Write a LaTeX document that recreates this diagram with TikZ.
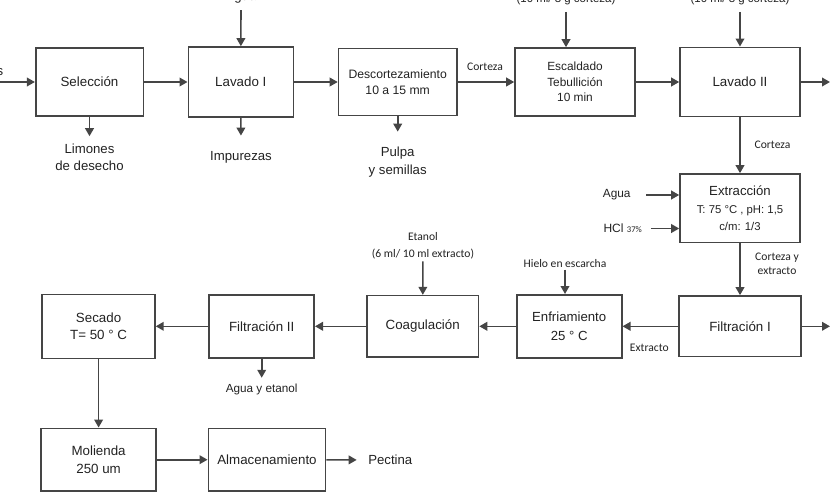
\documentclass[tikz,border=0pt]{standalone}
\usepackage{fontspec}
\setmainfont{Liberation Sans}
\newfontfamily\calfont{Carlito}
\usetikzlibrary{arrows.meta}
\definecolor{linec}{HTML}{454545}
\definecolor{textc}{HTML}{222222}
\newcommand\cond{\fontsize{8.5}{11.3}\selectfont}
\begin{document}
\begin{tikzpicture}[x=0.75pt, y=-0.75pt,
  box/.style={draw=linec, line width=1.2pt, text=textc, align=center, inner sep=1pt, font=\fontsize{10}{13.3}\selectfont},
  lbl/.style={text=textc, align=center, inner sep=2.5pt, font=\fontsize{9.9}{12.9}\selectfont},
  note/.style={text=textc, align=center, inner sep=1.5pt, font=\calfont\fontsize{8.7}{12.5}\selectfont},
  flow/.style={draw=linec, line width=1.2pt, -{Triangle[length=6pt,width=6.5pt]}}]
\useasboundingbox (0,0) rectangle (839,492);
\clip (0,0) rectangle (839,492);
\node[box, minimum width=80.7pt, minimum height=51pt] (sel) at (89.5,82){Selección};
\node[box, minimum width=78.75pt, minimum height=52.5pt] (lav1) at (240.8,82){Lavado I};
\node[box, minimum width=88.8pt, minimum height=50pt, font=\fontsize{9.15}{12.5}\selectfont] (desc) at (397.7,82){Descortezamiento\\10 a 15 mm};
\node[box, minimum width=90pt, minimum height=51pt, font=\fontsize{8.9}{11.5}\selectfont] (esc) at (575,82){Escaldado\\Tebullición\\10 min};
\node[box, minimum width=90pt, minimum height=52pt] (lav2) at (740,82){Lavado II};
\node[box, minimum width=90pt, minimum height=51.5pt, font=\fontsize{9.9}{13}\selectfont] (ext) at (740,208.3){Extracción\\{\cond T: 75 °C , pH: 1,5}\\{\cond c/m: 1/3}};
\node[box, minimum width=91.7pt, minimum height=45.5pt] (fil1) at (740,326.3){Filtración I};
\node[box, minimum width=78.75pt, minimum height=47.25pt, font=\fontsize{9.9}{14.25}\selectfont] (enf) at (569.2,326.3){Enfriamiento\\25 ° C};
\node[box, minimum width=83.7pt, minimum height=46pt] (coag) at (422.7,326.3){Coagulación};
\node[box, minimum width=78.75pt, minimum height=47.25pt] (fil2) at (261.7,326.3){Filtración II};
\node[box, minimum width=84.5pt, minimum height=48pt] (sec) at (98.6,326.3){Secado\\T= 50 ° C};
\node[box, minimum width=86.25pt, minimum height=47pt] (mol) at (98.6,459.7){Molienda\\250 um};
\node[box, minimum width=88pt, minimum height=47pt] (alm) at (267,459.7){Almacenamiento};
\node[lbl, anchor=base east, inner sep=0pt] (limin) at (3.5,76){Limones};
\coordinate (in) at (0,82);
\coordinate (outA) at (830,82);
\coordinate (outB) at (830,326.3);
\node[lbl, anchor=base] (aguaA) at (241,1){Agua};
\node[lbl, anchor=base, font=\fontsize{8.6}{10}\selectfont] (dosA) at (566,2.5){(10 ml/ 3 g corteza)};
\node[lbl, anchor=base, font=\fontsize{8.6}{10}\selectfont] (dosB) at (740,2.5){(10 ml/ 3 g corteza)};
\node[lbl] (limo) at (89.5,157){Limones\\de desecho};
\node[lbl] (impur) at (241,157.5){Impurezas};
\node[lbl, font=\fontsize{9.9}{13.3}\selectfont] (pulpa) at (397.7,162){Pulpa\\y semillas};
\node[note] (cortA) at (485,67){Corteza};
\node[note] (cortB) at (772.5,145){Corteza};
\node[note, font=\calfont\fontsize{8.7}{10.5}\selectfont] (cortC) at (777,264){Corteza y\\extracto};
\node[lbl, font=\fontsize{8.9}{11}\selectfont] (aguaB) at (616.7,195){Agua};
\node[lbl, font=\fontsize{9}{11}\selectfont] (hcl) at (622.7,228.5){HCl {\calfont\fontsize{6.5}{8}\selectfont 37\%}};
\node[note] (extr) at (649.3,348){Extracto};
\node[note] (hielo) at (565,263.3){Hielo en escarcha};
\node[note] (etanol) at (423,246){Etanol\\(6 ml/ 10 ml extracto)};
\node[lbl, font=\fontsize{8.8}{11}\selectfont] (aguaC) at (261.7,389.5){Agua y etanol};
\node[lbl] (pect) at (390.3,460){Pectina};
\draw[flow] (in) -- (sel);
\draw[flow] (sel) -- (lav1);
\draw[flow] (lav1) -- (desc);
\draw[flow] (desc) -- (esc);
\draw[flow] (esc) -- (lav2);
\draw[flow] (lav2) -- (outA);
\draw[flow, shorten <=2pt] (aguaA) -- (lav1);
\draw[flow, shorten <=2.5pt] (dosA) -- (dosA |- esc.north);
\draw[flow, shorten <=2.5pt] (dosB) -- (lav2);
\draw[flow, shorten >=2.8pt] (sel) -- (limo);
\draw[flow, shorten >=9.3pt] (lav1) -- (impur);
\draw[flow, shorten >=8.8pt] (desc) -- (pulpa);
\draw[flow] (lav2) -- (ext);
\draw[flow] (ext) -- (fil1);
\draw[flow, shorten <=9pt] (aguaB) -- (aguaB -| ext.west);
\draw[flow, shorten <=4pt] (hcl) -- (hcl -| ext.west);
\draw[flow] (fil1) -- (outB);
\draw[flow] (fil1) -- (enf);
\draw[flow] (hielo) -- (hielo |- enf.north);
\draw[flow] (enf) -- (coag);
\draw[flow] (etanol) -- (coag);
\draw[flow] (coag) -- (fil2);
\draw[flow] (fil2) -- (sec);
\draw[flow, shorten >=2pt] (fil2) -- (aguaC);
\draw[flow] (sec) -- (mol);
\draw[flow] (mol) -- (alm);
\draw[flow, shorten >=6pt] (alm) -- (pect);
\end{tikzpicture}
\end{document}
